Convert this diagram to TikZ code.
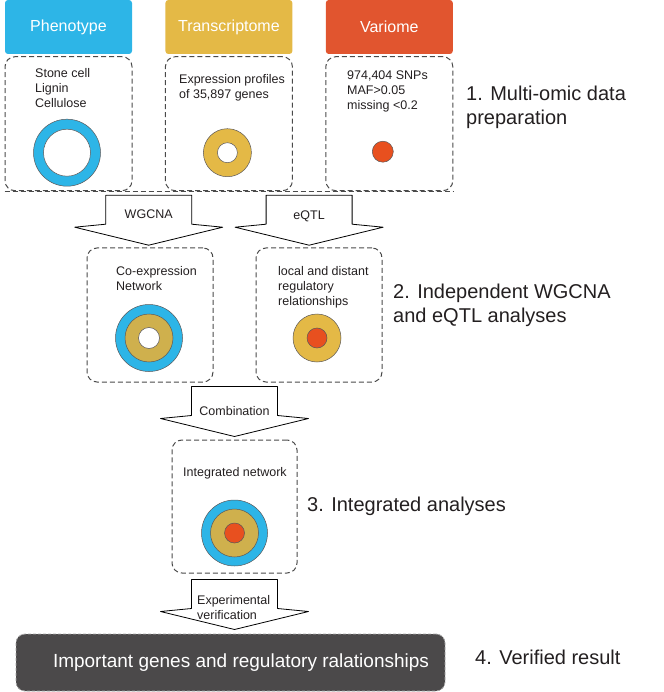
\documentclass[tikz,border=0pt]{standalone}
\usepackage{fontspec}
\setmainfont{Liberation Sans}
\usetikzlibrary{positioning,calc}
\definecolor{phenc}{HTML}{2DB5E7}
\definecolor{transc}{HTML}{E4B946}
\definecolor{varc}{HTML}{E1552F}
\definecolor{dotc}{HTML}{E8501F}
\definecolor{mixc}{HTML}{CFB04D}
\definecolor{panelc}{HTML}{4A4A4A}
\definecolor{finalc}{HTML}{4B494A}
\definecolor{textc}{HTML}{231F20}

\begin{document}
\begin{tikzpicture}[x=1pt,y=-1pt,
    head/.style={rounded corners=3pt,minimum width=127pt,minimum height=54pt,text=white,font=\fontsize{16}{19}\selectfont},
    panel/.style={draw=panelc,line width=1pt,dash pattern=on 5pt off 3pt,rounded corners=10pt,minimum width=126pt,minimum height=134pt},
    note/.style={inner sep=0pt,anchor=north west,align=left,text=textc,font=\fontsize{12.5}{15}\selectfont},
    arrlabel/.style={inner sep=0pt,text=textc,font=\fontsize{12.5}{15}\selectfont},
    stage/.style={inner sep=0pt,anchor=north west,align=left,text=textc,font=\fontsize{20}{24}\selectfont},
    disc/.style={circle,draw=textc!75,line width=0.5pt,inner sep=0pt},
    fatarrow/.pic={\draw[fill=white,line width=0.8pt,line join=round] (-43,0) -- (-43,29) -- (-74,32) -- (0,50) -- (74,32) -- (43,29) -- (43,0) -- cycle;}]
  \useasboundingbox (0,0) rectangle (663,692);

  % data sources
  \node[head,fill=phenc] (pheno) at (68.5,27) {Phenotype};
  \node[head,fill=transc,right=33pt of pheno] (trans) {Transcriptome};
  \node[head,fill=varc,right=33pt of trans] (vari) {Variome};

  \node[panel,minimum width=127pt,below=2pt of pheno] (pheno-box) {};
  \node[panel,minimum width=127pt,below=2pt of trans] (trans-box) {};
  \node[panel,minimum width=127pt,below=2pt of vari] (vari-box) {};
  \draw[panelc,line width=1pt,dash pattern=on 5pt off 3pt] (pheno-box.south west) -- (vari-box.south east);

  \node[note] (pheno-note) at (35,68) {Stone cell\\Lignin\\Cellulose};
  \node[note] (trans-note) at (179,74) {Expression profiles\\of 35,897 genes};
  \node[note] (vari-note) at (347,71) {974,404 SNPs\\MAF>0.05\\missing <0.2};

  \node[disc,minimum size=67pt,fill=phenc] (pheno-ring) at ($(pheno-box.center)+(-1.5,29)$) {};
  \node[disc,minimum size=47pt,fill=white] (pheno-hole) at (pheno-ring) {};
  \node[disc,minimum size=48pt,fill=transc] (trans-ring) at ($(trans-box.center)+(-1.5,29)$) {};
  \node[disc,minimum size=20pt,fill=white] (trans-hole) at (trans-ring) {};
  \node[disc,minimum size=21pt,fill=dotc] (vari-dot) at ($(vari-box.center)+(-6.5,28)$) {};

  \node[stage] (stage1) at (466,86) {1. Multi-omic data\\preparation};

  % WGCNA and eQTL
  \coordinate (wgcna-top) at ($(pheno-box.south)!0.5!(trans-box.south)+(0,4)$);
  \coordinate (eqtl-top) at ($(trans-box.south)!0.5!(vari-box.south)+(0,4)$);
  \pic at (wgcna-top) {fatarrow};
  \pic at (eqtl-top) {fatarrow};
  \node[arrlabel] (wgcna) at ($(wgcna-top)+(0,19)$) {WGCNA};
  \node[arrlabel] (eqtl) at ($(eqtl-top)+(0,21)$) {eQTL};

  \node[panel] (coexp-box) at (150,315) {};
  \node[panel] (local-box) at (319,315) {};

  \node[note] (coexp-note) at (116,266) {Co-expression\\Network};
  \node[note] (local-note) at (278,266) {local and distant\\regulatory\\relationships};

  \node[disc,minimum size=67pt,fill=phenc] (coexp-ring) at ($(coexp-box.center)+(-1,23)$) {};
  \node[disc,minimum size=48pt,fill=mixc] (coexp-mid) at (coexp-ring) {};
  \node[disc,minimum size=21pt,fill=white] (coexp-hole) at (coexp-ring) {};
  \node[disc,minimum size=48pt,fill=transc] (local-ring) at ($(local-box.center)+(-2,23)$) {};
  \node[disc,minimum size=20pt,fill=dotc] (local-dot) at (local-ring) {};

  \node[stage] (stage2) at (393,284) {2. Independent WGCNA\\and eQTL analyses};

  % integration
  \coordinate (comb-top) at ($(coexp-box.south)!0.5!(local-box.south)+(0,4)$);
  \pic at (comb-top) {fatarrow};
  \node[arrlabel] (comb) at ($(comb-top)+(0,25)$) {Combination};

  \node[panel,minimum width=125pt,minimum height=133pt] (integ-box) at (234.5,506.5) {};
  \node[note,anchor=north] (integ-note) at (235,467) {Integrated network};
  \node[disc,minimum size=66pt,fill=phenc] (integ-ring) at ($(integ-box.center)+(0,26.5)$) {};
  \node[disc,minimum size=48pt,fill=mixc] (integ-mid) at (integ-ring) {};
  \node[disc,minimum size=20pt,fill=dotc] (integ-dot) at (integ-ring) {};

  \node[stage] (stage3) at (307,497) {3. Integrated analyses};

  % verification
  \coordinate (verif-top) at ($(integ-box.south)+(0,6)$);
  \pic at (verif-top) {fatarrow};
  \node[note,font=\fontsize{12.5}{14.5}\selectfont] (verif) at ($(verif-top)+(-37.5,16)$) {Experimental\\verification};

  \node[draw=gray!70,fill=finalc,line width=0.8pt,dash pattern=on 3pt off 2pt,rounded corners=9pt,minimum width=429pt,minimum height=57pt] (result) at (230.5,662.5) {};
  \node[text=white,inner sep=0pt,font=\fontsize{19}{23}\selectfont] (result-text) at (241,663) {Important genes and regulatory ralationships};

  \node[stage] (stage4) at (475,650) {4. Verified result};
\end{tikzpicture}
\end{document}
